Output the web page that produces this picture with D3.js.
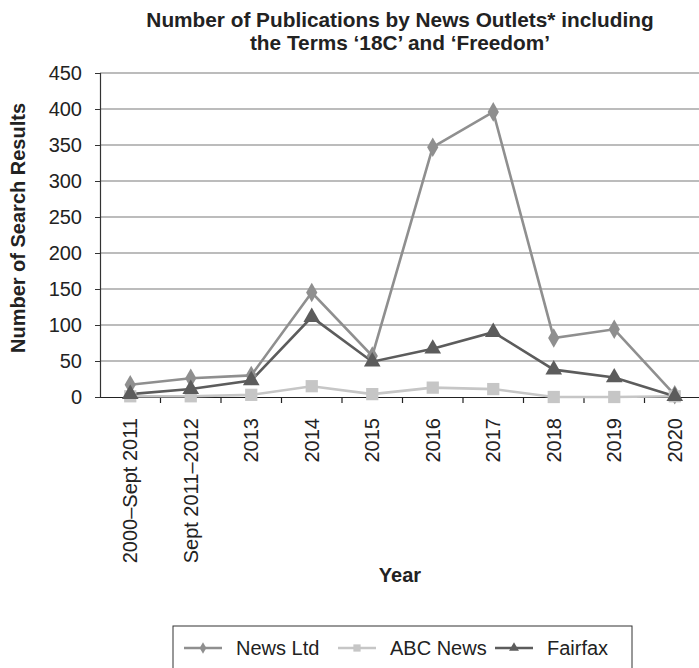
<!DOCTYPE html>
<html><head><meta charset="utf-8">
<script src="https://cdn.jsdelivr.net/npm/d3@7"></script>
<style>body{margin:0;background:#fff}svg{display:block;font-family:"Liberation Sans",Arial,sans-serif}</style>
</head><body>
<script>
const categories = ["2000\u2013Sept 2011","Sept 2011\u20132012","2013","2014","2015","2016","2017","2018","2019","2020"];
const newsLtd = [17,26,30,145,57,347,396,82,94,3];
const abcNews = [1,1,3,15,4,13,11,0,0,1];
const fairfax = [4,11,23,111,49,67,90,38,27,1];
const yTicks = [0,50,100,150,200,250,300,350,400,450];
const seriesNames = ["News Ltd","ABC News","Fairfax"];

const W=699,H=668;
const m={l:100,r:-6,t:73,b:271};
const FS=20;
const svg=d3.select("body").append("svg").attr("width",W).attr("height",H);
const x=d3.scaleBand().domain(categories).range([m.l,W-m.r]);
const y=d3.scaleLinear().domain([0,450]).range([H-m.b,m.t]);

const series=[
 {name:seriesNames[0],vals:newsLtd,color:"#8f8f8f",sym:d3.symbolDiamond,size:110},
 {name:seriesNames[1],vals:abcNews,color:"#c6c6c6",sym:d3.symbolSquare,size:150},
 {name:seriesNames[2],vals:fairfax,color:"#5c5c5c",sym:d3.symbolTriangle,size:120}
];

// gridlines
svg.append("g").selectAll("line").data(yTicks.filter(d=>d>0)).join("line")
 .attr("x1",m.l).attr("x2",W).attr("y1",d=>y(d)).attr("y2",d=>y(d))
 .attr("stroke","#a6a6a6").attr("stroke-width",1.3);

// y axis
const ya=svg.append("g").attr("transform",`translate(${m.l},0)`)
 .call(d3.axisLeft(y).tickValues(yTicks).tickSize(5).tickPadding(13));
ya.select(".domain").attr("stroke","#333").attr("stroke-width",1.2);
ya.selectAll(".tick line").attr("stroke","#333");
ya.selectAll("text").attr("font-size",FS).attr("fill","#222").attr("font-family","Liberation Sans, Arial, sans-serif");

// x axis
const xa=svg.append("g").attr("transform",`translate(0,${y(0)})`)
 .call(d3.axisBottom(x).tickSize(0).tickPadding(0));
xa.select(".domain").attr("stroke","#222").attr("stroke-width",1.2);
xa.selectAll(".tick line").remove();
xa.selectAll("text").attr("font-size",FS).attr("fill","#222").attr("font-family","Liberation Sans, Arial, sans-serif")
 .attr("transform","rotate(-90)").attr("text-anchor","end").attr("x",-21).attr("y",0).attr("dy","0.35em");
// band boundary ticks
svg.append("g").selectAll("line").data(categories.slice(1)).join("line")
 .attr("x1",d=>x(d)).attr("x2",d=>x(d)).attr("y1",y(0)).attr("y2",y(0)+6)
 .attr("stroke","#222").attr("stroke-width",1.2);

// lines
const line=d3.line().x((d,i)=>x(categories[i])+x.bandwidth()/2).y(d=>y(d));
series.forEach(s=>{
 svg.append("path").datum(s.vals).attr("d",line).attr("fill","none").attr("stroke",s.color).attr("stroke-width",2.6);
});
series.forEach(s=>{
 svg.append("g").selectAll("path").data(s.vals).join("path")
  .attr("d",d3.symbol().type(s.sym).size(s.size))
  .attr("transform",(d,i)=>`translate(${x(categories[i])+x.bandwidth()/2},${y(d)})`)
  .attr("fill",s.color);
});

// title
const t=svg.append("text").attr("x",400).attr("y",27).attr("text-anchor","middle")
 .attr("font-size",20.8).attr("font-weight","bold").attr("fill","#222");
t.append("tspan").attr("x",400).attr("dy",0).text("Number of Publications by News Outlets* including");
t.append("tspan").attr("x",400).attr("dy",23).text("the Terms \u201818C\u2019 and \u2018Freedom\u2019");

svg.append("text").attr("x",400).attr("y",582).attr("text-anchor","middle")
 .attr("font-size",FS).attr("font-weight","bold").attr("fill","#222").text("Year");
svg.append("text").attr("transform",`translate(25,228) rotate(-90)`).attr("text-anchor","middle")
 .attr("font-size",FS).attr("font-weight","bold").attr("fill","#222").text("Number of Search Results");

// legend
svg.append("rect").attr("x",173).attr("y",626).attr("width",459).attr("height",60)
 .attr("fill","none").attr("stroke","#333").attr("stroke-width",1);
const lx=[184,338,495];
series.forEach((s,i)=>{
 const g=svg.append("g").attr("transform",`translate(${lx[i]},648)`);
 g.append("line").attr("x1",0).attr("x2",38).attr("stroke",s.color).attr("stroke-width",2.6);
 g.append("path").attr("d",d3.symbol().type(s.sym).size(s.size*0.35)).attr("transform","translate(19,0)").attr("fill",s.color);
 g.append("text").attr("x",52).attr("y",0).attr("dy","0.35em").attr("font-size",FS).attr("fill","#222").text(s.name);
});
</script>
</body></html>
